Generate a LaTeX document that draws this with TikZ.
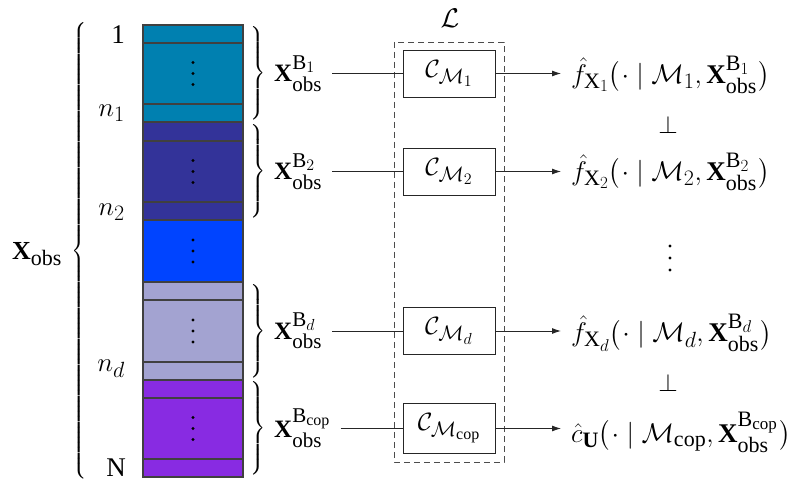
\RequirePackage{fix-cm}
\documentclass[tikz,border=0pt]{standalone}
\usepackage{amsmath}
\usepackage{exscale}
\usepackage{fontspec}
\setmainfont{Liberation Serif}
\usetikzlibrary{arrows.meta}
\DeclareMathSizes{25}{25}{21}{16}
\DeclareMathSizes{27}{27}{22}{17}
\DeclareMathSizes{26}{26}{22}{17}
\newcommand{\lpar}{\mathopen{\left(\vcenter{\hbox{\rule{0pt}{31pt}}}\right.}}
\newcommand{\rpar}{\mathclose{\left.\vcenter{\hbox{\rule{0pt}{31pt}}}\right)}}
\definecolor{cteal}{RGB}{0,128,176}
\definecolor{cdark}{RGB}{51,51,153}
\definecolor{cblue}{RGB}{0,68,255}
\definecolor{clav}{RGB}{163,163,209}
\definecolor{cpurp}{RGB}{136,43,226}
\tikzset{
  cell/.style={draw=black!75, line width=1.1pt},
  lbl/.style={inner sep=0pt, font=\fontsize{27}{32}\selectfont},
  blbl/.style={inner sep=0pt, anchor=west, font=\fontsize{25}{30}\selectfont},
  brc/.style={inner sep=0pt, font=\fontsize{17}{20}\selectfont},
  cbox/.style={draw=black!85, line width=0.9pt, fill=white, minimum width=92pt, minimum height=47pt, inner sep=0pt, font=\fontsize{25}{30}\selectfont},
  conn/.style={draw=black!85, line width=0.9pt},
  arr/.style={conn, -{Latex[length=9pt,width=6pt]}},
  dashbox/.style={draw=black!70, line width=0.9pt, dash pattern=on 6pt off 4pt},
  rlbl/.style={inner sep=0pt, anchor=west, font=\fontsize{27}{32}\selectfont},
}
\begin{document}
\begin{tikzpicture}[x=1pt,y=-1pt]
\useasboundingbox (0,0) rectangle (795,486);
% stack
\draw[cell, fill=cteal] (143,25) rectangle (243,43);
\draw[cell, fill=cteal] (143,43) rectangle (243,104);
\draw[cell, fill=cteal] (143,104) rectangle (243,122);
\draw[cell, fill=cdark] (143,122) rectangle (243,141);
\draw[cell, fill=cdark] (143,141) rectangle (243,202);
\draw[cell, fill=cdark] (143,202) rectangle (243,220);
\draw[cell, fill=cblue] (143,220) rectangle (243,282);
\draw[cell, fill=clav] (143,282) rectangle (243,300);
\draw[cell, fill=clav] (143,300) rectangle (243,362);
\draw[cell, fill=clav] (143,362) rectangle (243,380);
\draw[cell, fill=cpurp] (143,380) rectangle (243,398);
\draw[cell, fill=cpurp] (143,398) rectangle (243,459);
\draw[cell, fill=cpurp] (143,459) rectangle (243,477);
\foreach \c in {73.5,171.5,251,331,428.5}{
  \foreach \d in {-11,0,11}{ \fill (193,\c+\d) circle (1.6pt); }
}
% left labels
\node[lbl, anchor=east] (r1) at (125,35) {1};
\node[lbl, anchor=east] (rn1) at (125,113) {$n_1$};
\node[lbl, anchor=east] (rn2) at (125,212) {$n_2$};
\node[lbl, anchor=east] (rnd) at (125,369) {$n_d$};
\node[lbl, anchor=east] (rN) at (126,468) {N};
\node[inner sep=0pt, font=\fontsize{26}{30}\selectfont] (xobs) at (37,254) {$\mathbf{X}_{\mathrm{obs}}$};
\node[brc] (bigbrace) at (80,251) {$\left\{\vcenter{\hbox{\rule{0pt}{460pt}}}\right.$};
% right braces
\node[brc, anchor=west] (br1) at (249,73.5) {$\left.\vcenter{\hbox{\rule{0pt}{97pt}}}\right\}$};
\node[brc, anchor=west] (br2) at (249,171) {$\left.\vcenter{\hbox{\rule{0pt}{97pt}}}\right\}$};
\node[brc, anchor=west] (br3) at (249,331) {$\left.\vcenter{\hbox{\rule{0pt}{97pt}}}\right\}$};
\node[brc, anchor=west] (br4) at (249,428.5) {$\left.\vcenter{\hbox{\rule{0pt}{97pt}}}\right\}$};
% block labels
\node[blbl] (xb1) at (274,73.5) {$\mathbf{X}^{\mathrm{B}_1}_{\mathrm{obs}}$};
\node[blbl] (xb2) at (274,171.5) {$\mathbf{X}^{\mathrm{B}_2}_{\mathrm{obs}}$};
\node[blbl] (xbd) at (274,331) {$\mathbf{X}^{\mathrm{B}_d}_{\mathrm{obs}}$};
\node[blbl] (xbc) at (274,428.5) {$\mathbf{X}^{\mathrm{B}_{\mathrm{cop}}}_{\mathrm{obs}}$};
% boxes
\node[cbox] (c1) at (449,73.5) {$\mathcal{C}_{\mathcal{M}_1}$};
\node[cbox] (c2) at (449,171.5) {$\mathcal{C}_{\mathcal{M}_2}$};
\node[cbox] (cd) at (449,331) {$\mathcal{C}_{\mathcal{M}_d}$};
\node[cbox, minimum height=50pt] (cc) at (449,428.5) {$\mathcal{C}_{\mathcal{M}_{\mathrm{cop}}}$};
\draw[dashbox] (394,42) rectangle (504,462);
\node[lbl] (L) at (450,18) {$\mathcal{L}$};
% right labels
\node[rlbl] (f1) at (571,75) {$\hat{f}_{\mathrm{X}_1}\lpar\cdot\mid\mathcal{M}_1,\mathbf{X}^{\mathrm{B}_1}_{\mathrm{obs}}\rpar$};
\node[rlbl] (f2) at (571,172) {$\hat{f}_{\mathrm{X}_2}\lpar\cdot\mid\mathcal{M}_2,\mathbf{X}^{\mathrm{B}_2}_{\mathrm{obs}}\rpar$};
\node[rlbl] (fd) at (571,333) {$\hat{f}_{\mathrm{X}_d}\lpar\cdot\mid\mathcal{M}_d,\mathbf{X}^{\mathrm{B}_d}_{\mathrm{obs}}\rpar$};
\node[rlbl] (fc) at (571,432) {$\hat{c}_{\mathbf{U}}\lpar\cdot\mid\mathcal{M}_{\mathrm{cop}},\mathbf{X}^{\mathrm{B}_{\mathrm{cop}}}_{\mathrm{obs}}\rpar$};
\node[lbl, font=\fontsize{25}{30}\selectfont] (p1) at (668,125) {$\perp$};
\node[lbl, font=\fontsize{25}{30}\selectfont] (p2) at (668,383) {$\perp$};
\foreach \d in {246,258,270}{ \fill (670,\d) circle (1.6pt); }
% connectors
\draw[conn, shorten <=10pt] (xb1.east |- c1.west) -- (c1.west);
\draw[conn, shorten <=10pt] (xb2.east |- c2.west) -- (c2.west);
\draw[conn, shorten <=10pt] (xbd.east |- cd.west) -- (cd.west);
\draw[conn, shorten <=10pt] (xbc.east |- cc.west) -- (cc.west);
\draw[arr, shorten >=10pt] (c1.east) -- (c1.east -| f1.west);
\draw[arr, shorten >=10pt] (c2.east) -- (c2.east -| f2.west);
\draw[arr, shorten >=10pt] (cd.east) -- (cd.east -| fd.west);
\draw[arr, shorten >=10pt] (cc.east) -- (cc.east -| fc.west);
\end{tikzpicture}
\end{document}
